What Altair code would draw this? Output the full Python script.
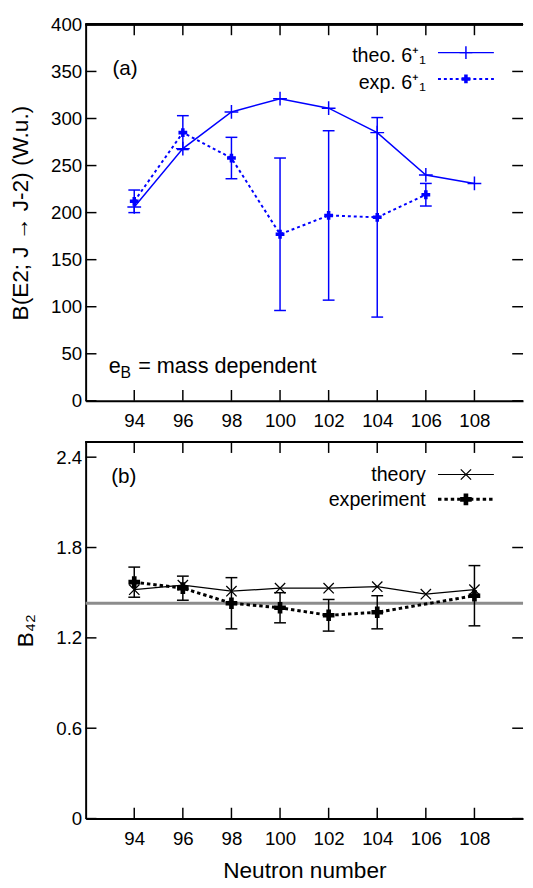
import altair as alt
import pandas as pd

# ---------------- data ----------------
neutron_theo = [94, 96, 98, 100, 102, 104, 106, 108]
be2_theo = [206, 268, 307, 321, 311, 285, 240, 231]

neutron_exp = [94, 96, 98, 100, 102, 104, 106]
be2_exp = [212, 285, 258, 177, 197, 195, 219]
be2_exp_err = [12, 18, 22, 81, 90, 106, 12]

b42_theo = [1.52, 1.55, 1.51, 1.53, 1.53, 1.54, 1.49, 1.52]
neutron_b42_exp = [94, 96, 98, 100, 102, 104, 108]
b42_exp = [1.57, 1.53, 1.43, 1.40, 1.35, 1.37, 1.48]
b42_exp_err = [0.10, 0.08, 0.17, 0.10, 0.105, 0.11, 0.20]
b42_rotor = [1.43]

x_ticks = [94, 96, 98, 100, 102, 104, 106, 108]
ya_ticks = [0, 50, 100, 150, 200, 250, 300, 350, 400]
yb_ticks = [0, 0.6, 1.2, 1.8, 2.4]

legend_a = ["theo. 6\u207a\u2081", "exp. 6\u207a\u2081"]
legend_b = ["theory", "experiment"]

# ---------------- layout / style ----------------
W = 445
HA = 383
HB = 383
TICK = 11
FONT = "Liberation Sans"
BLUE = "#0000ff"
PLUS = "M-1,0L1,0M0,-1L0,1"
XMARK = "M-1,-1L1,1M-1,1L1,-1"

XS = alt.Scale(domain=[92, 110], nice=False, zero=False)
YA = alt.Scale(domain=[0, 400], nice=False)
YB = alt.Scale(domain=[0, 2.5], nice=False)

LEG_TEXT_X = 106.0
LEG_X1, LEG_X2, LEG_MX = 106.5, 108.8, 107.65
LEG_A_Y = [370, 342]
LEG_B_Y = [2.285, 2.12]


def x_axis(title, tpad=5):
    return alt.Axis(values=x_ticks, ticks=False, labelPadding=11, labelFontSize=19,
                    labelFont=FONT, labelColor="black", domainColor="black",
                    domainWidth=2, grid=False, labelFlush=False, labelOverlap=False,
                    format="d", title=title, titleFontSize=23, titleFont=FONT,
                    titleFontWeight="normal", titlePadding=tpad, titleColor="black")


def y_axis(values, title, pad, expr):
    return alt.Axis(values=values, ticks=False, labelPadding=4, labelFontSize=19,
                    labelFont=FONT, labelColor="black", domainColor="black",
                    domainWidth=2, grid=False, labelFlush=False, labelOverlap=False,
                    title=title, titleFontSize=23, titleFont=FONT,
                    titleFontWeight="normal", titlePadding=pad, titleColor="black",
                    labelExpr=expr)


AX_XA = x_axis(None)
AX_XB = x_axis("Neutron number", 12)
AX_YA = y_axis(ya_ticks, "B(E2; J \u2192 J-2) (W.u.)", 18, "format(datum.value, 'd')")
AX_YB = y_axis(yb_ticks, "B\u2084\u2082", 19,
               "datum.value == 0 ? '0' : format(datum.value, '.1f')")


def mk(xaxis, yscale, yaxis):
    def X(field="n"):
        return alt.X(f"{field}:Q", scale=XS, axis=xaxis)

    def Y(field="v"):
        return alt.Y(f"{field}:Q", scale=yscale, axis=yaxis)
    return X, Y


def frame_layers(X, Y, yticks, H):
    xt = pd.DataFrame({"t": x_ticks})
    yt = pd.DataFrame({"t": yticks})
    xb = alt.Chart(xt).mark_rule(color="black", strokeWidth=1.5).encode(
        x=X("t"), y=alt.value(H), y2=alt.value(H - TICK))
    xtop = alt.Chart(xt).mark_rule(color="black", strokeWidth=1.5).encode(
        x=X("t"), y=alt.value(0), y2=alt.value(TICK))
    yl = alt.Chart(yt).mark_rule(color="black", strokeWidth=1.5).encode(
        y=Y("t"), x=alt.value(0), x2=alt.value(TICK))
    yr = alt.Chart(yt).mark_rule(color="black", strokeWidth=1.5).encode(
        y=Y("t"), x=alt.value(W - TICK), x2=alt.value(W))
    top = alt.Chart(xt).mark_rule(color="black", strokeWidth=2).encode(
        x=alt.value(0), x2=alt.value(W), y=alt.value(0))
    return [xb, xtop, yl, yr, top]


# ---------------- panel (a) ----------------
XA, YAe = mk(AX_XA, YA, AX_YA)
da_t = pd.DataFrame({"n": neutron_theo, "v": be2_theo})
da_e = pd.DataFrame({"n": neutron_exp, "v": be2_exp, "err": be2_exp_err})
da_e["lo"] = da_e["v"] - da_e["err"]
da_e["hi"] = da_e["v"] + da_e["err"]

a_theo_line = alt.Chart(da_t).mark_line(color=BLUE, strokeWidth=1.5).encode(x=XA(), y=YAe())
a_theo_pts = alt.Chart(da_t).mark_point(shape=PLUS, size=196, filled=False, color=BLUE,
                                        strokeWidth=1.5, opacity=1).encode(x=XA(), y=YAe())
a_exp_line = alt.Chart(da_e).mark_line(color=BLUE, strokeWidth=2, strokeDash=[3, 3]).encode(
    x=XA(), y=YAe())
a_err = alt.Chart(da_e).mark_rule(color=BLUE, strokeWidth=1.5).encode(
    x=XA(), y=YAe("lo"), y2=alt.Y2("hi"))
a_cap_lo = alt.Chart(da_e).mark_tick(color=BLUE, orient="horizontal", size=12, thickness=1.5,
                                     opacity=1).encode(x=XA(), y=YAe("lo"))
a_cap_hi = alt.Chart(da_e).mark_tick(color=BLUE, orient="horizontal", size=12, thickness=1.5,
                                     opacity=1).encode(x=XA(), y=YAe("hi"))
a_exp_pts = alt.Chart(da_e).mark_point(shape="cross", size=80, filled=True, color=BLUE,
                                       opacity=1).encode(x=XA(), y=YAe())

ann_a = pd.DataFrame({"x": [93.1], "y": [352], "t": ["(a)"]})
a_lbl = alt.Chart(ann_a).mark_text(font=FONT, fontSize=21, align="left", baseline="middle",
                                   color="black").encode(x=XA("x"), y=YAe("y"), text="t:N")
eb = pd.DataFrame({"x": [92.95], "y": [37]})
a_e = alt.Chart(eb).mark_text(text="e", font=FONT, fontSize=22, align="left",
                              baseline="middle", color="black").encode(x=XA("x"), y=YAe("y"))
a_B = alt.Chart(eb).mark_text(text="B", font=FONT, fontSize=16, align="left",
                              baseline="middle", color="black", dx=12, dy=7).encode(
    x=XA("x"), y=YAe("y"))
a_rest = alt.Chart(eb).mark_text(text="= mass dependent", font=FONT, fontSize=22, align="left",
                                 baseline="middle", color="black", dx=30).encode(
    x=XA("x"), y=YAe("y"))

leg_a = pd.DataFrame({"t": legend_a, "y": LEG_A_Y, "tx": [LEG_TEXT_X] * 2,
                      "x1": [LEG_X1] * 2, "x2": [LEG_X2] * 2, "mx": [LEG_MX] * 2})
la_text = alt.Chart(leg_a).mark_text(font=FONT, fontSize=20, align="right", baseline="middle",
                                     color="black", dy=4).encode(x=XA("tx"), y=YAe("y"), text="t:N")
la_l1 = alt.Chart(leg_a.iloc[[0]]).mark_rule(color=BLUE, strokeWidth=1.5).encode(
    x=XA("x1"), x2=alt.X2("x2"), y=YAe("y"))
la_l2 = alt.Chart(leg_a.iloc[[1]]).mark_rule(color=BLUE, strokeWidth=2, strokeDash=[3, 3]).encode(
    x=XA("x1"), x2=alt.X2("x2"), y=YAe("y"))
la_m1 = alt.Chart(leg_a.iloc[[0]]).mark_point(shape=PLUS, size=169, filled=False, color=BLUE,
                                              strokeWidth=1.5, opacity=1).encode(x=XA("mx"), y=YAe("y"))
la_m2 = alt.Chart(leg_a.iloc[[1]]).mark_point(shape="cross", size=80, filled=True, color=BLUE,
                                              opacity=1).encode(x=XA("mx"), y=YAe("y"))

panel_a = alt.layer(
    a_theo_line, a_theo_pts, a_exp_line, a_err, a_cap_lo, a_cap_hi, a_exp_pts,
    *frame_layers(XA, YAe, ya_ticks, HA), a_lbl, a_e, a_B, a_rest,
    la_l1, la_l2, la_m1, la_m2, la_text
).properties(width=W, height=HA)

# ---------------- panel (b) ----------------
XB, YBe = mk(AX_XB, YB, AX_YB)
db_t = pd.DataFrame({"n": neutron_theo, "v": b42_theo})
db_e = pd.DataFrame({"n": neutron_b42_exp, "v": b42_exp, "err": b42_exp_err})
db_e["lo"] = db_e["v"] - db_e["err"]
db_e["hi"] = db_e["v"] + db_e["err"]
db_r = pd.DataFrame({"v": b42_rotor})

b_rotor = alt.Chart(db_r).mark_rule(color="#8c8c8c", strokeWidth=3).encode(y=YBe())
b_theo_line = alt.Chart(db_t).mark_line(color="black", strokeWidth=1.2).encode(x=XB(), y=YBe())
b_theo_pts = alt.Chart(db_t).mark_point(shape=XMARK, size=110, filled=False, color="black",
                                        strokeWidth=1.3, opacity=1).encode(x=XB(), y=YBe())
b_exp_line = alt.Chart(db_e).mark_line(color="black", strokeWidth=3, strokeDash=[3.5, 3]).encode(
    x=XB(), y=YBe())
b_err = alt.Chart(db_e).mark_rule(color="black", strokeWidth=1.5).encode(
    x=XB(), y=YBe("lo"), y2=alt.Y2("hi"))
b_cap_lo = alt.Chart(db_e).mark_tick(color="black", orient="horizontal", size=12, thickness=1.5,
                                     opacity=1).encode(x=XB(), y=YBe("lo"))
b_cap_hi = alt.Chart(db_e).mark_tick(color="black", orient="horizontal", size=12, thickness=1.5,
                                     opacity=1).encode(x=XB(), y=YBe("hi"))
b_exp_pts = alt.Chart(db_e).mark_point(shape="cross", size=140, filled=True, color="black",
                                       opacity=1).encode(x=XB(), y=YBe())

ann_b = pd.DataFrame({"x": [93.05], "y": [2.27], "t": ["(b)"]})
b_lbl = alt.Chart(ann_b).mark_text(font=FONT, fontSize=21, align="left", baseline="middle",
                                   color="black").encode(x=XB("x"), y=YBe("y"), text="t:N")

leg_b = pd.DataFrame({"t": legend_b, "y": LEG_B_Y, "tx": [LEG_TEXT_X] * 2,
                      "x1": [LEG_X1] * 2, "x2": [LEG_X2] * 2, "mx": [LEG_MX] * 2})
lb_text = alt.Chart(leg_b).mark_text(font=FONT, fontSize=20, align="right", baseline="middle",
                                     color="black", dy=1).encode(x=XB("tx"), y=YBe("y"), text="t:N")
lb_l1 = alt.Chart(leg_b.iloc[[0]]).mark_rule(color="black", strokeWidth=1.2).encode(
    x=XB("x1"), x2=alt.X2("x2"), y=YBe("y"))
lb_l2 = alt.Chart(leg_b.iloc[[1]]).mark_rule(color="black", strokeWidth=3, strokeDash=[3.5, 3]).encode(
    x=XB("x1"), x2=alt.X2("x2"), y=YBe("y"))
lb_m1 = alt.Chart(leg_b.iloc[[0]]).mark_point(shape=XMARK, size=110, filled=False, color="black",
                                              strokeWidth=1.3, opacity=1).encode(x=XB("mx"), y=YBe("y"))
lb_m2 = alt.Chart(leg_b.iloc[[1]]).mark_point(shape="cross", size=140, filled=True, color="black",
                                              opacity=1).encode(x=XB("mx"), y=YBe("y"))

panel_b = alt.layer(
    b_rotor, b_theo_line, b_theo_pts, b_exp_line, b_err, b_cap_lo, b_cap_hi, b_exp_pts,
    *frame_layers(XB, YBe, yb_ticks, HB), b_lbl,
    lb_l1, lb_l2, lb_m1, lb_m2, lb_text
).properties(width=W, height=HB)

chart = alt.vconcat(panel_a, panel_b, spacing=11).properties(
    padding={"left": 2, "top": 0, "right": 0, "bottom": 0}
).configure_view(stroke=None)

chart.save("out.html", embed_options={"renderer": "svg", "actions": False})
